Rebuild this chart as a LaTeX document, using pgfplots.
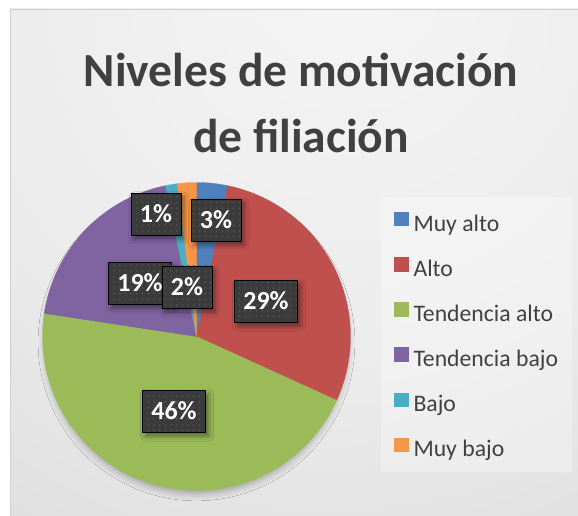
\documentclass[border=0pt]{standalone}
\usepackage{pgfplots}
\pgfplotsset{compat=1.18}
\usepackage{fontspec}
\setmainfont{Carlito}
\usetikzlibrary{shadows.blur, patterns.meta}

\definecolor{cMuyAlto}{HTML}{4F81BD}
\definecolor{cAlto}{HTML}{C0504D}
\definecolor{cTendAlto}{HTML}{9BBB59}
\definecolor{cTendBajo}{HTML}{8064A2}
\definecolor{cBajo}{HTML}{4BACC6}
\definecolor{cMuyBajo}{HTML}{F79646}
\definecolor{txt}{HTML}{404040}
\definecolor{lblbg}{HTML}{3B3B3B}
\definecolor{lbldot}{HTML}{565656}
\definecolor{bg0}{HTML}{F5F5F5}
\definecolor{bg1}{HTML}{ECECEC}
\definecolor{bg2}{HTML}{DCDCDC}
\definecolor{bg3}{HTML}{CACACA}
\definecolor{bg4}{HTML}{C0C0C0}
\definecolor{bgborder}{HTML}{D0D0D0}

\pgfdeclareradialshading{chartbg}{\pgfpoint{5bp}{30bp}}{color(0bp)=(bg0); color(30bp)=(bg1); color(55bp)=(bg2); color(70bp)=(bg3); color(100bp)=(bg4)}

\begin{document}
\begin{tikzpicture}[x=1bp,y=1bp]
\fill[white] (0,0) rectangle (578,516);
\shade[shading=chartbg] (10.5,0) rectangle (578,507);
\draw[bgborder, line width=0.8bp] (10.5,0) -- (10.5,507) -- (578,507);
% legend background
\fill[white, opacity=0.3] (381,44) rectangle (572,319);
% title
\node[font=\fontsize{47.5bp}{66bp}\selectfont\bfseries, text=txt, anchor=base, inner sep=0pt, align=center] at (301,363) {Niveles de motivaci{ó}n\\de filiaci{ó}n};

\gdef\cum{0}
\begin{axis}[
  at={(0bp,0bp)}, anchor=south west,
  width=578bp, height=516bp, scale only axis,
  xmin=0, xmax=578, ymin=0, ymax=516, y dir=reverse,
  hide axis, clip=false,
  legend entries={Muy alto, Alto, Tendencia alto, Tendencia bajo, Bajo, Muy bajo},
  legend cell align=left,
  legend image code/.code={\fill[#1] (0bp,0bp) rectangle (13.5bp,13.5bp);},
  legend style={at={(0.6817,0.5897)}, anchor=north west, draw=none, fill=none,
    inner sep=0pt, row sep=20bp, column sep=5.5bp,
    nodes={inner sep=0pt, text height=17bp, text depth=6bp, text=txt,
      font=\fontsize{23.7bp}{28bp}\selectfont}},
]
% pie shadow
\addplot[forget plot, draw=none, fill=gray,
  blur shadow={shadow xshift=0bp, shadow yshift=-6bp, shadow scale=0.99, shadow blur radius=7bp, shadow opacity=30},
  domain=0:360, samples=120, variable=\t]
  ({196.5+153*sin(\t)},{336.5-153*cos(\t)});
% sectors: share (percent) / colour, clockwise from 12 o'clock
\foreach \v/\c in {3.25/cMuyAlto, 28.55/cAlto, 45.6/cTendAlto, 19.35/cTendBajo, 1.25/cBajo, 2.0/cMuyBajo} {
  \pgfmathsetmacro\ta{\cum*3.6}
  \pgfmathsetmacro\tb{(\cum+\v)*3.6}
  \edef\doplot{\noexpand\addplot[fill=\c, draw=\c, line width=0.3bp, domain=\ta:\tb, samples=80, variable=\noexpand\t]
    ({196.5+154*sin(\noexpand\t)},{336.5-154*cos(\noexpand\t)}) -- (axis cs:196.5,336.5) -- cycle;}
  \doplot
  \pgfmathsetmacro\nc{\cum+\v}
  \xdef\cum{\nc}
}
% data labels
\addplot[forget plot, only marks, mark=none, point meta=explicit symbolic,
  nodes near coords,
  every node near coord/.append style={anchor=center, fill=lblbg, text=white,
    font=\fontsize{26bp}{30bp}\selectfont\bfseries,
    inner xsep=9bp, inner ysep=0pt, minimum height=42bp, text height=16.5bp, text depth=0bp,
    blur shadow={shadow xshift=3bp, shadow yshift=-4bp, shadow blur radius=5bp, shadow opacity=45},
    postaction={pattern={Dots[distance=5.7bp, radius=0.9bp]}, pattern color=lbldot}}]
  coordinates {(216,220) [3\%] (266,301) [29\%] (174,411) [46\%] (140,283) [19\%] (156,214) [1\%] (187,287) [2\%]};
\end{axis}
\pgfresetboundingbox
\path (0,0) rectangle (578,516);
\end{tikzpicture}
\end{document}
